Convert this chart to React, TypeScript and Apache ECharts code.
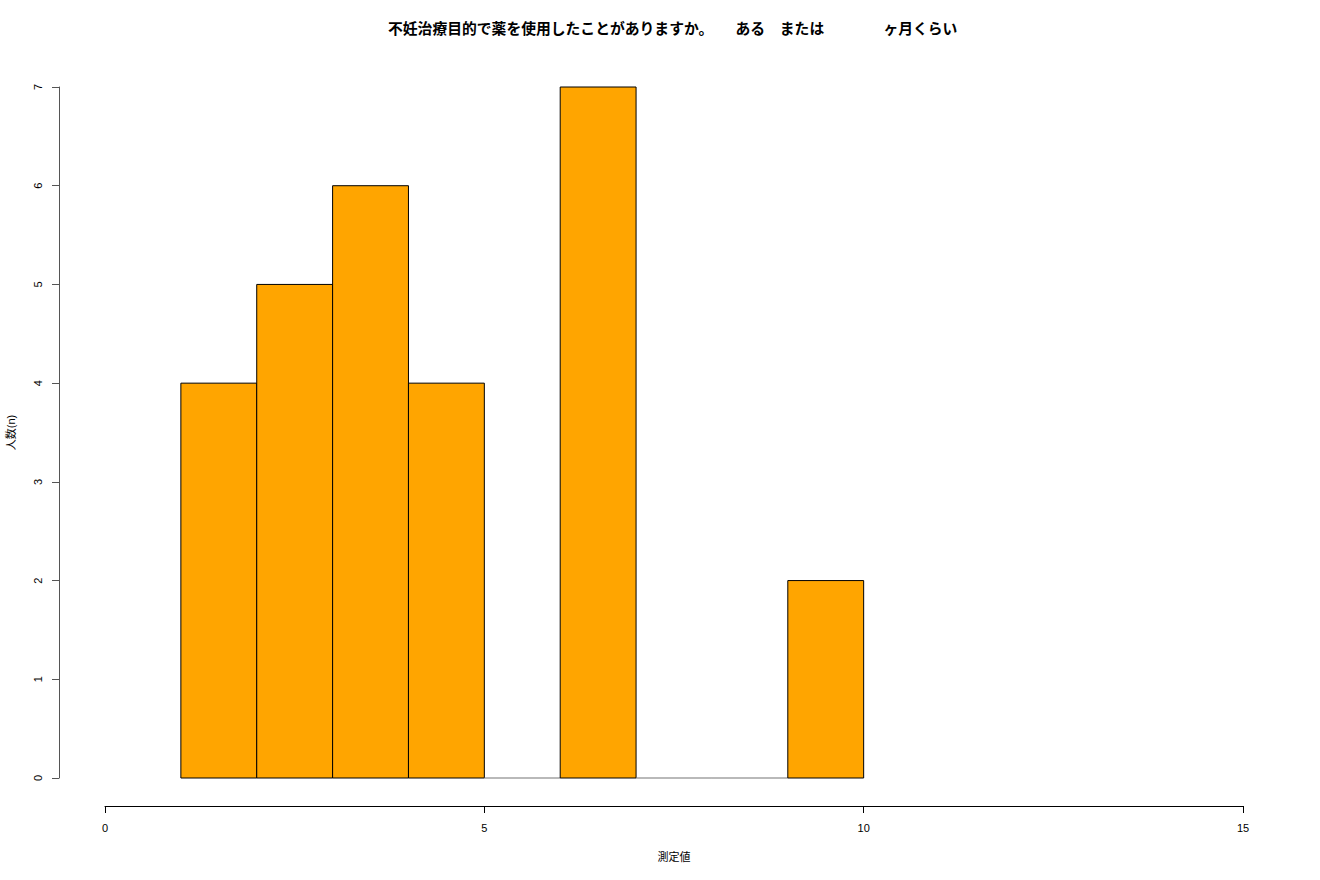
import React, { useEffect, useRef } from "react";
import * as echarts from "echarts";

const titleText = "不妊治療目的で薬を使用したことがありますか。\u3000\u3000ある\u3000または\u3000\u3000\u3000\u3000ヶ月くらい";
const xName = "測定値";
const yName = "人数(n)";
const binStarts = [1, 2, 3, 4, 5, 6, 7, 8, 9];
const binEnds = [2, 3, 4, 5, 6, 7, 8, 9, 10];
const counts = [4, 5, 6, 4, 0, 7, 0, 0, 2];

const FONT = "'Liberation Sans', Arial, 'Noto Sans CJK JP', sans-serif";

export default function App() {
  const ref = useRef<HTMLDivElement>(null);
  useEffect(() => {
    document.body.style.margin = "0";
    const chart = echarts.init(ref.current!, null, { renderer: "svg" });
    const data = binStarts.map((s, i) => [s, binEnds[i], counts[i]]);
    chart.setOption({
      animation: false,
      backgroundColor: "#ffffff",
      textStyle: { fontFamily: FONT },
      title: {
        text: titleText,
        left: 388,
        top: 22,
        padding: 0,
        textStyle: { fontFamily: FONT, fontSize: 14.8, fontWeight: "bold", color: "#000000" },
      },
      grid: { left: 105, right: 77, top: 87, bottom: 102, outerBoundsMode: "none", containLabel: false },
      xAxis: {
        type: "value",
        min: 0,
        max: 15,
        interval: 5,
        offset: 28,
        name: xName,
        nameLocation: "middle",
        nameGap: 45,
        nameTextStyle: { fontFamily: FONT, fontSize: 11, color: "#000000" },
        axisLine: { show: true, onZero: false, lineStyle: { color: "#000000", width: 1 } },
        axisTick: { show: true, length: 7, inside: false, lineStyle: { color: "#000000" } },
        axisLabel: { margin: 16, fontFamily: FONT, fontSize: 11, color: "#000000" },
        splitLine: { show: false },
      },
      yAxis: {
        type: "value",
        min: 0,
        max: 7,
        interval: 1,
        offset: 46,
        name: yName,
        nameLocation: "middle",
        nameRotate: 90,
        nameGap: 43,
        nameTextStyle: { fontFamily: FONT, fontSize: 11, color: "#000000" },
        axisLine: { show: true, onZero: false, lineStyle: { color: "#555555", width: 1 } },
        axisTick: { show: true, length: 7, inside: false, lineStyle: { color: "#555555" } },
        axisLabel: { rotate: 90, margin: 16, fontFamily: FONT, fontSize: 11, color: "#000000" },
        splitLine: { show: false },
      },
      series: [
        {
          type: "custom",
          data,
          encode: { x: [0, 1], y: 2 },
          clip: false,
          renderItem: (params: any, api: any) => {
            const x0 = api.value(0);
            const x1 = api.value(1);
            const y = api.value(2);
            const p0 = api.coord([x0, y]);
            const p1 = api.coord([x1, 0]);
            const empty = y === 0;
            return {
              type: "rect",
              shape: { x: p0[0], y: p0[1], width: p1[0] - p0[0], height: p1[1] - p0[1] },
              style: { fill: "#FFA500", stroke: empty ? "#777777" : "#000000", lineWidth: empty ? 0.6 : 1 },
            };
          },
        },
      ],
    });
    return () => chart.dispose();
  }, []);
  return <div ref={ref} style={{ width: 1320, height: 880 }} />;
}
